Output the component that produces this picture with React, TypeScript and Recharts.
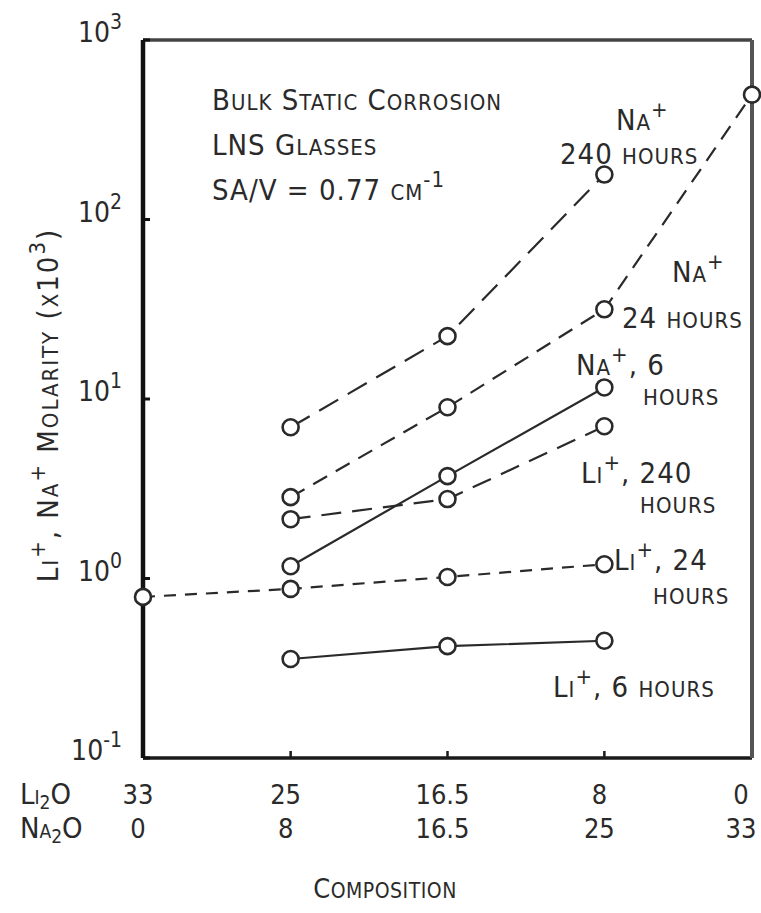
import React from 'react';
import { LineChart, Line, XAxis, YAxis } from 'recharts';

// composition (mol %), x axis runs on Na2O content
const na2o = [0, 8, 16.5, 25, 33];
const li2oLabels = ['33', '25', '16.5', '8', '0'];
const na2oLabels = ['0', '8', '16.5', '25', '33'];

const yTicks = [0.1, 1, 10, 100, 1000];
const yExps = ['-1', '0', '1', '2', '3'];

// molarity x10^3
const na240 = [null, 6.96, 22.4, 178, null];
const na24 = [null, 2.84, 9.0, 31.6, 496];
const na6 = [null, 1.17, 3.72, 11.6, null];
const li240 = [null, 2.14, 2.77, 7.05, null];
const li24 = [0.79, 0.875, 1.02, 1.2, null];
const li6 = [null, 0.356, 0.42, 0.45, null];

const data = na2o.map((x, i) => ({
  x,
  na240: na240[i],
  na24: na24[i],
  na6: na6[i],
  li240: li240[i],
  li24: li24[i],
  li6: li6[i],
}));

const FONT = "'Liberation Sans Narrow', 'DejaVu Sans Condensed', 'DejaVu Sans', sans-serif";
const INK = '#2a2a2a';

// small caps-ish text: lowercase letters become small capitals, ^{..} superscript, _{..} subscript
const SC = ({ x, y, text, big = 29, small = 22, ls = 1, sub = 8, anchor = 'start', transform }: any) => {
  const re = /\^\{([^}]*)\}|_\{([^}]*)\}|([^\^_]+)/g;
  const spans: any[] = [];
  let m: RegExpExecArray | null;
  let shift = 0;
  let k = 0;
  while ((m = re.exec(text))) {
    if (m[1] !== undefined || m[2] !== undefined) {
      const d = m[1] !== undefined ? -13 : sub;
      spans.push(
        <tspan key={k++} dy={d - shift} fontSize={small}>
          {(m[1] ?? m[2]).toUpperCase()}
        </tspan>
      );
      shift = d;
    } else {
      const runs = m[3].match(/[a-z]+|[^a-z]+/g) || [];
      runs.forEach((r) => {
        const lower = /[a-z]/.test(r);
        spans.push(
          <tspan key={k++} dy={-shift} fontSize={lower ? small : big}>
            {lower ? r.toUpperCase() : r}
          </tspan>
        );
        shift = 0;
      });
    }
  }
  return (
    <text
      x={x}
      y={y}
      textAnchor={anchor}
      fontFamily={FONT}
      fill={INK}
      letterSpacing={ls}
      transform={transform}
    >
      {spans}
    </text>
  );
};

const YTick = (props: any) => {
  const { x, y, payload } = props;
  const i = yTicks.indexOf(payload.value);
  return (
    <text x={x - 28} y={y + 2} textAnchor="end" fontFamily={FONT} fill={INK}>
      <tspan fontSize={28}>10</tspan>
      <tspan fontSize={21} dy={-13}>{yExps[i]}</tspan>
    </text>
  );
};

const XTick = (props: any) => {
  const { x, y, payload } = props;
  const i = na2o.indexOf(payload.value);
  const cx = Math.min(x - 5, 741);
  return (
    <g>
      <text x={cx} y={y + 53} textAnchor="middle" fontFamily={FONT} fontSize={27} fill={INK}>
        {li2oLabels[i]}
      </text>
      <text x={cx} y={y + 87} textAnchor="middle" fontFamily={FONT} fontSize={27} fill={INK}>
        {na2oLabels[i]}
      </text>
    </g>
  );
};

const dot = (p: any) =>
  p.value == null || p.cy == null ? (
    <g key={p.index} />
  ) : (
    <circle key={p.index} cx={p.cx} cy={p.cy} r={8} fill="#fff" stroke={INK} strokeWidth={2.6} />
  );

const series = [
  { key: 'na240', dash: '22 11' },
  { key: 'na24', dash: '16 10' },
  { key: 'na6', dash: undefined },
  { key: 'li240', dash: '20 11' },
  { key: 'li24', dash: '12 9' },
  { key: 'li6', dash: undefined },
];

export default function App() {
  return (
    <div style={{ position: 'absolute', left: 0, top: 0, width: 761, height: 913, background: '#fff' }}>
      <LineChart width={761} height={913} data={data} margin={{ top: 39, right: 8, bottom: 154, left: 0 }}>
        <XAxis
          xAxisId="b"
          dataKey="x"
          type="number"
          domain={[0, 33]}
          ticks={na2o}
          interval={0}
          height={1}
          tickSize={-7}
          tickMargin={0}
          axisLine={{ stroke: '#1a1a1a', strokeWidth: 3.5 }}
          tickLine={{ stroke: '#1a1a1a', strokeWidth: 2.5 }}
          tick={<XTick />}
        />
        <XAxis
          xAxisId="t"
          orientation="top"
          dataKey="x"
          type="number"
          domain={[0, 33]}
          ticks={[8, 16.5, 25]}
          interval={0}
          height={1}
          tickSize={-7}
          axisLine={{ stroke: '#444', strokeWidth: 3.5 }}
          tickLine={{ stroke: '#444', strokeWidth: 2.5 }}
          tick={false}
        />
        <YAxis
          yAxisId="l"
          scale="log"
          domain={[0.1, 1000]}
          ticks={yTicks}
          interval={0}
          width={143}
          tickSize={-7}
          tickMargin={0}
          allowDataOverflow
          axisLine={{ stroke: '#111', strokeWidth: 4.5 }}
          tickLine={{ stroke: '#111', strokeWidth: 3 }}
          tick={<YTick />}
        />
        <YAxis
          yAxisId="r"
          orientation="right"
          scale="log"
          domain={[0.1, 1000]}
          ticks={[1, 10, 100]}
          interval={0}
          width={1}
          tickSize={-7}
          allowDataOverflow
          axisLine={{ stroke: '#555', strokeWidth: 4 }}
          tickLine={{ stroke: '#555', strokeWidth: 3 }}
          tick={false}
        />
        {series.map((s) => (
          <Line
            key={s.key}
            xAxisId="b"
            yAxisId="l"
            dataKey={s.key}
            type="linear"
            stroke={INK}
            strokeWidth={2.2}
            strokeDasharray={s.dash}
            dot={dot}
            activeDot={false}
            isAnimationActive={false}
          />
        ))}
      </LineChart>
      <svg
        width={761}
        height={913}
        style={{ position: 'absolute', left: 0, top: 0, pointerEvents: 'none' }}
      >
        <SC x={212} y={110} text="Bulk Static Corrosion" />
        <SC x={212} y={155} text="LNS Glasses" />
        <SC x={212} y={200} text="SA/V = 0.77 cm^{-1}" />
        <SC x={616} y={130} text="Na^{+}" />
        <SC x={560} y={164} text="240 hours" />
        <SC x={672} y={282} text="Na^{+}" />
        <SC x={622} y={328} text="24 hours" />
        <SC x={576} y={375} text="Na^{+}, 6" />
        <SC x={643} y={405} text="hours" />
        <SC x={581} y={483} text="Li^{+}, 240" />
        <SC x={640} y={513} text="hours" />
        <SC x={614} y={570} text="Li^{+}, 24" />
        <SC x={653} y={604} text="hours" />
        <SC x={553} y={697} text="Li^{+}, 6 hours" />
        <SC x={20} y={804} text="Li_{2}O" ls={0} sub={5} small={19} />
        <SC x={20} y={838} text="Na_{2}O" ls={0} sub={5} small={19} />
        <SC x={385} y={898} anchor="middle" text="Composition" big={27} small={21} ls={0.5} />
        <SC
          x={0}
          y={0}
          anchor="middle"
          ls={2}
          transform="translate(58 405) rotate(-90)"
          text="Li^{+}, Na^{+} Molarity (x10^{3})"
        />
      </svg>
    </div>
  );
}
